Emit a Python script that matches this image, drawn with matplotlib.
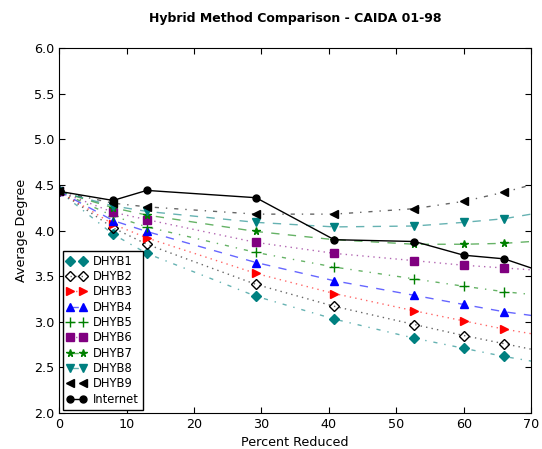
import matplotlib
matplotlib.use('Agg')
import matplotlib.pyplot as plt

# percent reduced (last point = end of the fitted line, no marker)
x = [0, 8, 13, 29.2, 40.8, 52.7, 60, 66, 70]

dhyb1 = [4.43, 3.96, 3.75, 3.28, 3.03, 2.82, 2.71, 2.62, 2.57]
dhyb2 = [4.43, 4.03, 3.85, 3.41, 3.17, 2.97, 2.85, 2.76, 2.70]
dhyb3 = [4.43, 4.07, 3.92, 3.53, 3.31, 3.12, 3.01, 2.92, 2.87]
dhyb4 = [4.43, 4.11, 3.99, 3.65, 3.45, 3.29, 3.19, 3.11, 3.07]
dhyb5 = [4.43, 4.16, 4.04, 3.76, 3.60, 3.47, 3.39, 3.33, 3.30]
dhyb6 = [4.43, 4.20, 4.12, 3.87, 3.75, 3.67, 3.62, 3.59, 3.57]
dhyb7 = [4.43, 4.25, 4.17, 3.99, 3.90, 3.85, 3.85, 3.86, 3.88]
dhyb8 = [4.43, 4.27, 4.21, 4.09, 4.04, 4.05, 4.09, 4.13, 4.18]
dhyb9 = [4.43, 4.30, 4.26, 4.18, 4.18, 4.24, 4.32, 4.42, 4.50]
internet = [4.43, 4.33, 4.44, 4.36, 3.90, 3.88, 3.73, 3.69, 3.59]

labels = ['DHYB1', 'DHYB2', 'DHYB3', 'DHYB4', 'DHYB5', 'DHYB6', 'DHYB7', 'DHYB8', 'DHYB9', 'Internet']

plt.rcParams['xtick.direction'] = 'in'
plt.rcParams['ytick.direction'] = 'in'
plt.rcParams['xtick.top'] = True
plt.rcParams['ytick.right'] = True
plt.rcParams['xtick.major.size'] = 4
plt.rcParams['ytick.major.size'] = 4
plt.rcParams['font.size'] = 9.2
plt.rcParams['lines.scale_dashes'] = False
plt.rcParams['lines.dashed_pattern'] = [6, 6]
plt.rcParams['lines.dashdot_pattern'] = [3, 5, 1, 5]
plt.rcParams['lines.dotted_pattern'] = [1, 3]

fig = plt.figure(figsize=(5.42, 4.49), dpi=100)
ax = fig.add_axes([0.109, 0.080, 0.871, 0.813])

series = [dhyb1, dhyb2, dhyb3, dhyb4, dhyb5, dhyb6, dhyb7, dhyb8, dhyb9]
colors = ['#008080', 'black', 'red', 'blue', 'green', 'purple', 'green', '#008080', 'black']
styles = ['-.', ':', ':', '--', '-.', ':', '--', '--', '-.']
markers = ['D', 'D', '>', '^', '+', 's', '*', 'v', '<']
sizes = [5, 5.5, 5.5, 5.5, 6.5, 6, 5.5, 5.5, 5.5]
marks = list(range(8))

for y, c, ls, m, ms, lab in zip(series, colors, styles, markers, sizes, labels):
    rgba = matplotlib.colors.to_rgba(c, 0.6)
    face = 'none' if lab == 'DHYB2' else c
    ax.plot(x, y, color=rgba, linestyle=ls, linewidth=1, marker=m, markersize=ms,
            markerfacecolor=face, markeredgecolor=c, markeredgewidth=1.0, markevery=marks, label=lab)

ax.plot(x, internet, color='black', linestyle='-', linewidth=1, marker='o', markersize=5,
        markevery=marks, label='Internet')

ax.set_xlim(0, 70)
ax.set_ylim(2.0, 6.0)
ax.set_xticks(range(0, 71, 10))
ax.set_yticks([2.0, 2.5, 3.0, 3.5, 4.0, 4.5, 5.0, 5.5, 6.0])
ax.set_xlabel('Percent Reduced')
ax.set_ylabel('Average Degree')
ax.set_title('Hybrid Method Comparison - CAIDA 01-98', fontweight='bold', fontsize=9, pad=19)

leg = ax.legend(loc='lower left', numpoints=2, fontsize=8.3, labelspacing=0.2, handlelength=1.7,
                handletextpad=0.6, borderpad=0.35, borderaxespad=0.3, fancybox=False, framealpha=1)
leg.get_frame().set_edgecolor('black')

fig.savefig('out.png', dpi=100)
